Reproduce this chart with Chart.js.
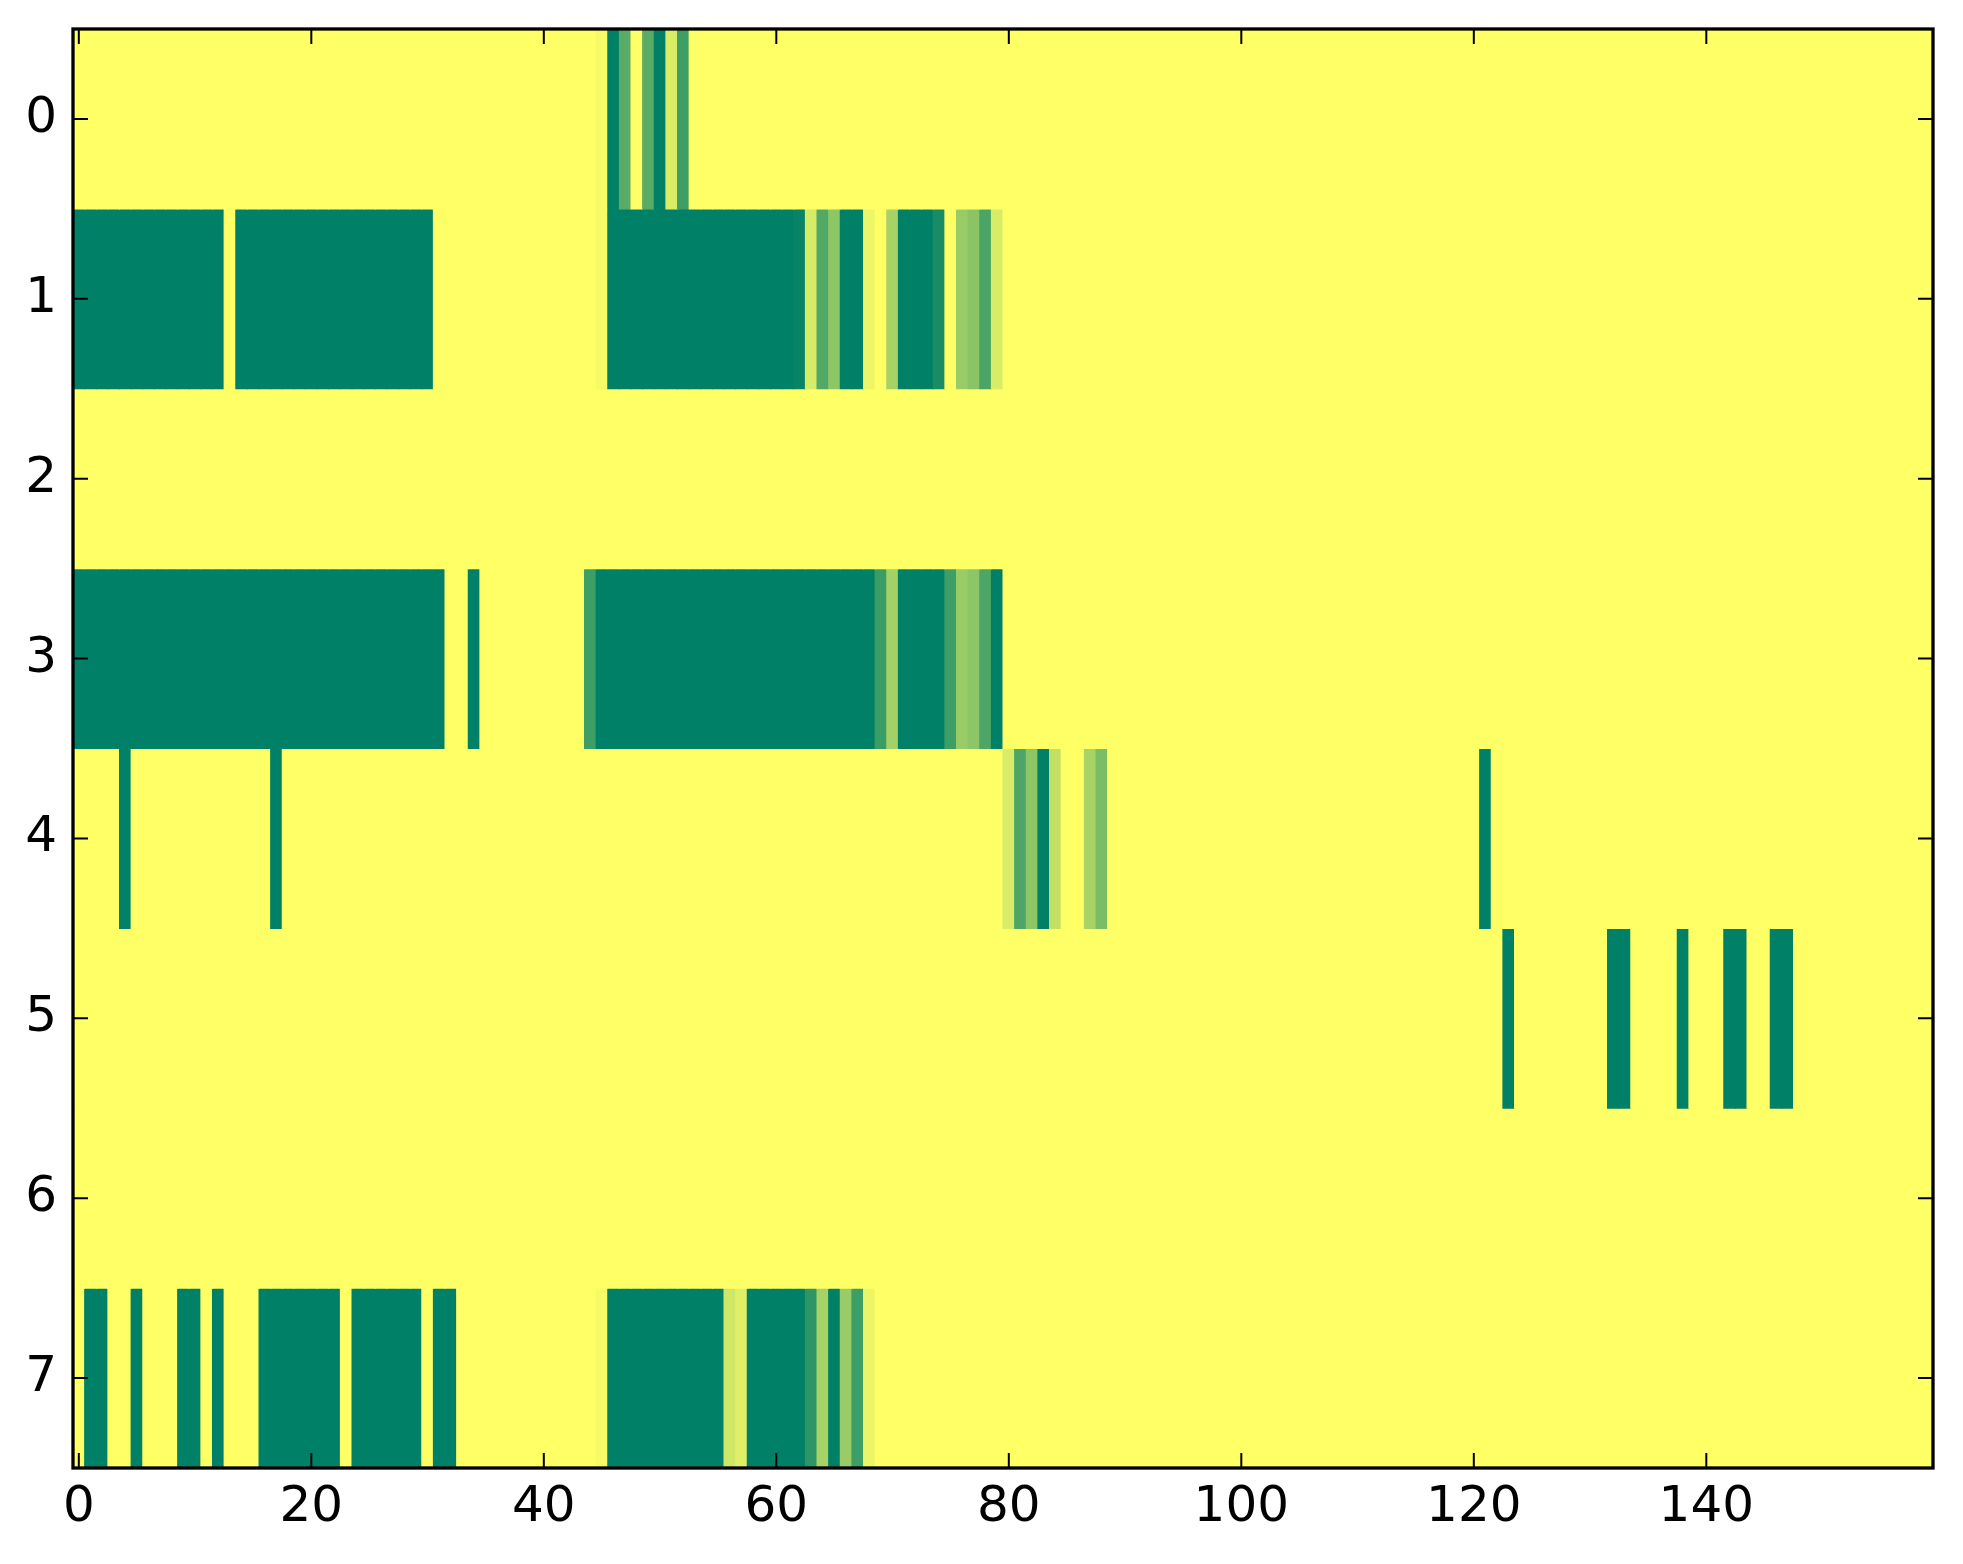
<!DOCTYPE html>
<html>
<head>
<meta charset="utf-8">
<script src="https://cdn.jsdelivr.net/npm/chart.js@4.4.1/dist/chart.umd.min.js"></script>
<style>
  html, body { margin: 0; padding: 0; background: #fff; }
  #wrap { position: relative; width: 1963px; height: 1564px; }
</style>
</head>
<body>
<div id="wrap"><canvas id="heatmap"></canvas></div>
<script>
// rows of the image (top to bottom), one value per column, 0 = yellow, 1 = dark green
const rowLabels = ['0', '1', '2', '3', '4', '5', '6', '7'];
const xTickValues = [0, 20, 40, 60, 80, 100, 120, 140];

const row0 = [
  0,0,0,0,0,0,0,0,0,0, 0,0,0,0,0,0,0,0,0,0,
  0,0,0,0,0,0,0,0,0,0, 0,0,0,0,0,0,0,0,0,0,
  0,0,0,0,0,.04,1,.65,0,.65, 1,.15,.76,0,0,0,0,0,0,0,
  0,0,0,0,0,0,0,0,0,0, 0,0,0,0,0,0,0,0,0,0,
  0,0,0,0,0,0,0,0,0,0, 0,0,0,0,0,0,0,0,0,0,
  0,0,0,0,0,0,0,0,0,0, 0,0,0,0,0,0,0,0,0,0,
  0,0,0,0,0,0,0,0,0,0, 0,0,0,0,0,0,0,0,0,0,
  0,0,0,0,0,0,0,0,0,0, 0,0,0,0,0,0,0,0,0,0
];
const row1 = [
  1,1,1,1,1,1,1,1,1,1, 1,1,1,0,1,1,1,1,1,1,
  1,1,1,1,1,1,1,1,1,1, 1,0,0,0,0,0,0,0,0,0,
  0,0,0,0,0,.04,1,1,1,1, 1,1,1,1,1,1,1,1,1,1,
  1,1,.97,.16,.68,.45,1,1,.07,0, .35,1,1,1,.9,0,.4,.46,.71,.15,
  0,0,0,0,0,0,0,0,0,0, 0,0,0,0,0,0,0,0,0,0,
  0,0,0,0,0,0,0,0,0,0, 0,0,0,0,0,0,0,0,0,0,
  0,0,0,0,0,0,0,0,0,0, 0,0,0,0,0,0,0,0,0,0,
  0,0,0,0,0,0,0,0,0,0, 0,0,0,0,0,0,0,0,0,0
];
const row2 = [
  0,0,0,0,0,0,0,0,0,0, 0,0,0,0,0,0,0,0,0,0,
  0,0,0,0,0,0,0,0,0,0, 0,0,0,0,0,0,0,0,0,0,
  0,0,0,0,0,0,0,0,0,0, 0,0,0,0,0,0,0,0,0,0,
  0,0,0,0,0,0,0,0,0,0, 0,0,0,0,0,0,0,0,0,0,
  0,0,0,0,0,0,0,0,0,0, 0,0,0,0,0,0,0,0,0,0,
  0,0,0,0,0,0,0,0,0,0, 0,0,0,0,0,0,0,0,0,0,
  0,0,0,0,0,0,0,0,0,0, 0,0,0,0,0,0,0,0,0,0,
  0,0,0,0,0,0,0,0,0,0, 0,0,0,0,0,0,0,0,0,0
];
const row3 = [
  1,1,1,1,1,1,1,1,1,1, 1,1,1,1,1,1,1,1,1,1,
  1,1,1,1,1,1,1,1,1,1, 1,1,0,0,1,0,0,0,0,0,
  0,0,0,0,.76,1,1,1,1,1, 1,1,1,1,1,1,1,1,1,1,
  1,1,1,1,1,1,1,1,1,.77, .36,1,1,1,1,.76,.4,.45,.7,1,
  0,0,0,0,0,0,0,0,0,0, 0,0,0,0,0,0,0,0,0,0,
  0,0,0,0,0,0,0,0,0,0, 0,0,0,0,0,0,0,0,0,0,
  0,0,0,0,0,0,0,0,0,0, 0,0,0,0,0,0,0,0,0,0,
  0,0,0,0,0,0,0,0,0,0, 0,0,0,0,0,0,0,0,0,0
];
const row4 = [
  0,0,0,0,1,0,0,0,0,0, 0,0,0,0,0,0,0,1,0,0,
  0,0,0,0,0,0,0,0,0,0, 0,0,0,0,0,0,0,0,0,0,
  0,0,0,0,0,0,0,0,0,0, 0,0,0,0,0,0,0,0,0,0,
  0,0,0,0,0,0,0,0,0,0, 0,0,0,0,0,0,0,0,0,0,
  .15,.7,.45,1,.24,0,0,.34,.52,0, 0,0,0,0,0,0,0,0,0,0,
  0,0,0,0,0,0,0,0,0,0, 0,0,0,0,0,0,0,0,0,0,
  0,1,0,0,0,0,0,0,0,0, 0,0,0,0,0,0,0,0,0,0,
  0,0,0,0,0,0,0,0,0,0, 0,0,0,0,0,0,0,0,0,0
];
const row5 = [
  0,0,0,0,0,0,0,0,0,0, 0,0,0,0,0,0,0,0,0,0,
  0,0,0,0,0,0,0,0,0,0, 0,0,0,0,0,0,0,0,0,0,
  0,0,0,0,0,0,0,0,0,0, 0,0,0,0,0,0,0,0,0,0,
  0,0,0,0,0,0,0,0,0,0, 0,0,0,0,0,0,0,0,0,0,
  0,0,0,0,0,0,0,0,0,0, 0,0,0,0,0,0,0,0,0,0,
  0,0,0,0,0,0,0,0,0,0, 0,0,0,0,0,0,0,0,0,0,
  0,0,0,1,0,0,0,0,0,0, 0,0,1,1,0,0,0,0,1,0,
  0,0,1,1,0,0,1,1,0,0, 0,0,0,0,0,0,0,0,0,0
];
const row6 = [
  0,0,0,0,0,0,0,0,0,0, 0,0,0,0,0,0,0,0,0,0,
  0,0,0,0,0,0,0,0,0,0, 0,0,0,0,0,0,0,0,0,0,
  0,0,0,0,0,0,0,0,0,0, 0,0,0,0,0,0,0,0,0,0,
  0,0,0,0,0,0,0,0,0,0, 0,0,0,0,0,0,0,0,0,0,
  0,0,0,0,0,0,0,0,0,0, 0,0,0,0,0,0,0,0,0,0,
  0,0,0,0,0,0,0,0,0,0, 0,0,0,0,0,0,0,0,0,0,
  0,0,0,0,0,0,0,0,0,0, 0,0,0,0,0,0,0,0,0,0,
  0,0,0,0,0,0,0,0,0,0, 0,0,0,0,0,0,0,0,0,0
];
const row7 = [
  0,1,1,0,0,1,0,0,0,1, 1,0,1,0,0,0,1,1,1,1,
  1,1,1,0,1,1,1,1,1,1, 0,1,1,0,0,0,0,0,0,0,
  0,0,0,0,0,.04,1,1,1,1, 1,1,1,1,1,1,.19,.12,1,1,
  1,1,1,.82,.35,1,.4,.76,.08,0, 0,0,0,0,0,0,0,0,0,0,
  0,0,0,0,0,0,0,0,0,0, 0,0,0,0,0,0,0,0,0,0,
  0,0,0,0,0,0,0,0,0,0, 0,0,0,0,0,0,0,0,0,0,
  0,0,0,0,0,0,0,0,0,0, 0,0,0,0,0,0,0,0,0,0,
  0,0,0,0,0,0,0,0,0,0, 0,0,0,0,0,0,0,0,0,0
];

const rows = [row0, row1, row2, row3, row4, row5, row6, row7];

// matplotlib "summer_r": 0 -> (1, 1, 0.4), 1 -> (0, 0.5, 0.4)
function summerR(t) {
  const r = Math.round(255 * (1 - t));
  const g = Math.round(255 * (1 - 0.5 * t));
  return 'rgb(' + r + ',' + g + ',102)';
}

const datasets = rows.map(function (vals, r) {
  return {
    data: vals.map(function (v, c) {
      return { x: [c - 0.5, c + 0.5], y: rowLabels[r] };
    }),
    backgroundColor: vals.map(summerR),
    borderWidth: 0,
    barPercentage: 1,
    categoryPercentage: 1,
    grouped: false,
    inflateAmount: 0.5
  };
});

// box round the plot and inward ticks on all four sides
const frameTicks = {
  id: 'frameTicks',
  afterDatasetsDraw(chart) {
    const ctx = chart.ctx;
    const a = chart.chartArea;
    const xs = chart.scales.x;
    const ys = chart.scales.y;
    const len = 15;
    ctx.save();
    ctx.strokeStyle = '#000';
    ctx.lineWidth = 2;
    ctx.beginPath();
    xTickValues.forEach(function (v) {
      const px = xs.getPixelForValue(v);
      ctx.moveTo(px, a.bottom); ctx.lineTo(px, a.bottom - len);
      ctx.moveTo(px, a.top); ctx.lineTo(px, a.top + len);
    });
    rowLabels.forEach(function (lab, i) {
      const py = ys.getPixelForTick(i);
      ctx.moveTo(a.left, py); ctx.lineTo(a.left + len, py);
      ctx.moveTo(a.right, py); ctx.lineTo(a.right - len, py);
    });
    ctx.stroke();
    ctx.lineWidth = 3.3;
    ctx.strokeRect(a.left, a.top, a.right - a.left, a.bottom - a.top);
    ctx.restore();
  }
};

const tickFont = { family: '"DejaVu Sans", sans-serif', size: 50 };

new Chart(document.getElementById('heatmap'), {
  type: 'bar',
  data: { labels: rowLabels, datasets: datasets },
  options: {
    indexAxis: 'y',
    responsive: true,
    maintainAspectRatio: false,
    animation: false,
    layout: { padding: { left: 0, top: 29, right: 30, bottom: 0 } },
    plugins: { legend: { display: false }, tooltip: { enabled: false } },
    scales: {
      x: {
        type: 'linear',
        min: -0.5,
        max: 159.5,
        grid: { display: false, drawTicks: false },
        border: { display: false },
        afterBuildTicks: function (scale) {
          scale.ticks = xTickValues.map(function (v) { return { value: v }; });
        },
        afterFit: function (scale) {
          scale.height = 96;
          scale.paddingLeft = 0;
          scale.paddingRight = 0;
        },
        ticks: { color: '#000', font: tickFont, padding: 10, maxRotation: 0, autoSkip: false }
      },
      y: {
        type: 'category',
        grid: { display: false, drawTicks: false },
        border: { display: false },
        afterFit: function (scale) {
          scale.width = 73;
          scale.paddingTop = 0;
          scale.paddingBottom = 0;
        },
        ticks: { color: '#000', font: tickFont, padding: 16 }
      }
    }
  },
  plugins: [frameTicks]
});
</script>
</body>
</html>
